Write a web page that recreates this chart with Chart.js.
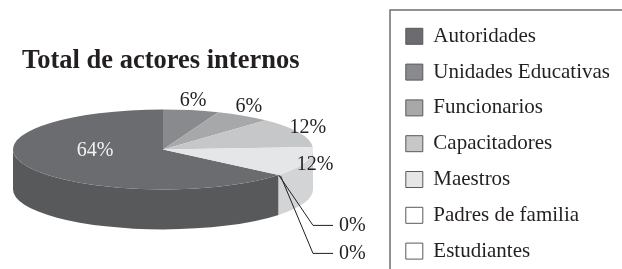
<!DOCTYPE html>
<html>
<head>
<meta charset="utf-8">
<script src="https://cdn.jsdelivr.net/npm/chart.js@4.4.1/dist/chart.umd.min.js"></script>
<style>
  html, body { margin: 0; padding: 0; background: #fff; }
  #wrap { width: 622px; height: 269px; }
</style>
</head>
<body>
<div id="wrap"><canvas id="pie"></canvas></div>
<script>
// Total de actores internos, in percent
const categories = ["Autoridades", "Unidades Educativas", "Funcionarios", "Capacitadores", "Maestros", "Padres de familia", "Estudiantes"];
const percentages = [64, 6, 6, 12, 12, 0, 0];
const sliceColors = ["#6b6c6f", "#898a8d", "#a7a8aa", "#c6c7c9", "#e5e6e7", "#ffffff", "#ffffff"];
const wallColors = ["#58595b", "#76777a", "#939497", "#b2b3b5", "#d3d4d5", "#ececec", "#ececec"];

const total = percentages.reduce((a, b) => a + b, 0);
// first slice ends at 12 o'clock, like the Excel original
const startAngle = 360 * (total - percentages[0]) / total;

const ink = "#231f20";
const serif = "'Liberation Serif', 'Times New Roman', serif";

function ellipseOf(chart, opts) {
    const el = chart.getDatasetMeta(0).data[0];
    return {
        el,
        cx: el.x + opts.shiftX,
        cy: el.y + opts.shiftY,
        rx: opts.rx,
        ry: opts.ry,
        depth: opts.depth,
    };
}

// Flattens the pie into an ellipse and adds a side wall
const pie3d = {
    id: "pie3d",
    beforeDatasetsDraw(chart, args, opts) {
        const ctx = chart.ctx;
        const g = ellipseOf(chart, opts);
        const meta = chart.getDatasetMeta(0);

        // front half of the wall only
        meta.data.forEach((arc, i) => {
            const a = arc.startAngle, b = arc.endAngle;
            for (let k = -1; k <= 2; k++) {
                const lo = Math.max(a, 2 * Math.PI * k);
                const hi = Math.min(b, 2 * Math.PI * k + Math.PI);
                if (hi <= lo) continue;
                ctx.beginPath();
                ctx.ellipse(g.cx, g.cy, g.rx, g.ry, 0, lo, hi);
                ctx.ellipse(g.cx, g.cy + g.depth, g.rx, g.ry, 0, hi, lo, true);
                ctx.closePath();
                ctx.fillStyle = wallColors[i];
                ctx.fill();
            }
        });

        const R = g.el.outerRadius;
        ctx.save();
        ctx.translate(g.cx, g.cy);
        ctx.scale(g.rx / R, g.ry / R);
        ctx.translate(-g.el.x, -g.el.y);
    },
    afterDatasetsDraw(chart, args, opts) {
        const ctx = chart.ctx;
        ctx.restore();

        const g = ellipseOf(chart, opts);
        const meta = chart.getDatasetMeta(0);
        ctx.save();
        ctx.font = "20px " + serif;
        ctx.textBaseline = "middle";
        let zeros = 0;
        meta.data.forEach((arc, i) => {
            const v = percentages[i];
            const text = v + "%";
            const m = (arc.startAngle + arc.endAngle) / 2;
            if (v >= 50) {
                ctx.fillStyle = "#f2f2f2";
                ctx.textAlign = "center";
                ctx.fillText(text, g.cx + 0.5 * g.rx * Math.cos(m), g.cy + 0.5 * g.ry * Math.sin(m) - 7);
            } else if (v > 0) {
                ctx.fillStyle = ink;
                ctx.textAlign = "center";
                ctx.fillText(text, g.cx + (g.rx + 10) * Math.cos(m), g.cy + (g.ry + 10) * Math.sin(m));
            } else {
                // zero slices: leader lines stacked under the right edge
                const sx = g.cx + g.rx * Math.cos(arc.startAngle) + 2 * zeros;
                const sy = g.cy + g.ry * Math.sin(arc.startAngle) + zeros;
                const ex = g.cx + g.rx;
                const ey = g.cy + g.ry + g.depth - 4 + zeros * 28;
                ctx.strokeStyle = ink;
                ctx.lineWidth = 1;
                ctx.beginPath();
                ctx.moveTo(sx, sy);
                ctx.lineTo(ex, ey);
                ctx.lineTo(ex + 20, ey);
                ctx.stroke();
                ctx.fillStyle = ink;
                ctx.textAlign = "left";
                ctx.fillText(text, ex + 26, ey);
                zeros++;
            }
        });
        ctx.restore();
    },
};

// open frame round the legend
const legendFrame = {
    id: "legendFrame",
    afterDraw(chart) {
        const lg = chart.legend;
        const ctx = chart.ctx;
        ctx.save();
        ctx.strokeStyle = "#6d6e71";
        ctx.lineWidth = 1.5;
        ctx.beginPath();
        ctx.moveTo(lg.left - 1, chart.height);
        ctx.lineTo(lg.left - 1, lg.top - 1);
        ctx.lineTo(chart.width, lg.top - 1);
        ctx.stroke();
        ctx.restore();
    },
};

new Chart(document.getElementById("pie"), {
    type: "pie",
    data: {
        labels: categories,
        datasets: [{
            data: percentages,
            backgroundColor: sliceColors,
            borderWidth: 0,
            clip: false,
        }],
    },
    plugins: [pie3d, legendFrame],
    options: {
        responsive: true,
        maintainAspectRatio: false,
        animation: false,
        events: [],
        rotation: startAngle,
        layout: { padding: { left: 22, right: 2, top: 11, bottom: -10 } },
        plugins: {
            title: {
                display: true,
                text: "Total de actores internos",
                align: "start",
                fullSize: false,
                color: ink,
                font: { family: serif, size: 26.5, weight: "bold" },
                padding: { top: 34, bottom: 0 },
            },
            legend: {
                position: "right",
                align: "start",
                labels: {
                    color: ink,
                    font: { family: serif, size: 21 },
                    boxWidth: 17,
                    boxHeight: 16,
                    padding: 14.8,
                    generateLabels: (chart) =>
                        Chart.overrides.pie.plugins.legend.labels.generateLabels(chart).map((item) => ({
                            ...item,
                            strokeStyle: "#58595b",
                            lineWidth: 1,
                        })),
                },
            },
            tooltip: { enabled: false },
            pie3d: { rx: 150, ry: 40, depth: 40, shiftX: -43.5, shiftY: -23.5 },
        },
    },
});
</script>
</body>
</html>
